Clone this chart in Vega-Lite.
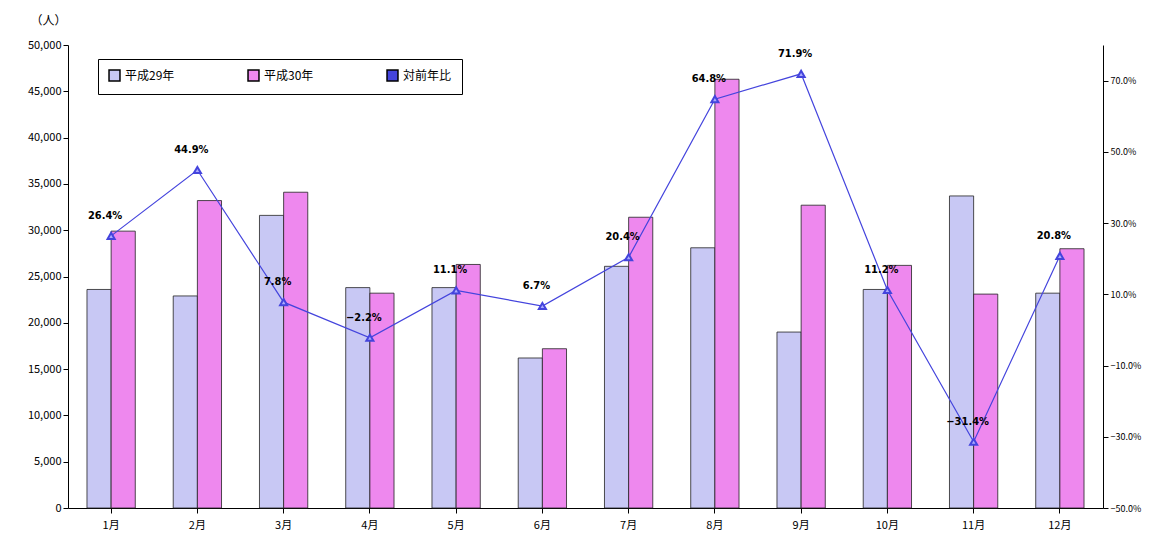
{
"$schema":"https://vega.github.io/schema/vega-lite/v6.json",
"width":1035,"height":463,
"autosize":{"type":"none"},
"padding":{"left":68,"top":45,"right":46,"bottom":27},
"background":"white",
"config":{"view":{"stroke":null},"font":"Noto Sans CJK JP","axis":{"labelFont":"Noto Sans CJK JP","labelFontSize":11,"labelColor":"black","domainColor":"black","tickColor":"black","grid":false}},
"datasets":{
"bars":[
{"m":"1月","s":"平成29年","v":23600},{"m":"1月","s":"平成30年","v":29900},
{"m":"2月","s":"平成29年","v":22900},{"m":"2月","s":"平成30年","v":33200},
{"m":"3月","s":"平成29年","v":31600},{"m":"3月","s":"平成30年","v":34100},
{"m":"4月","s":"平成29年","v":23800},{"m":"4月","s":"平成30年","v":23200},
{"m":"5月","s":"平成29年","v":23800},{"m":"5月","s":"平成30年","v":26300},
{"m":"6月","s":"平成29年","v":16200},{"m":"6月","s":"平成30年","v":17200},
{"m":"7月","s":"平成29年","v":26100},{"m":"7月","s":"平成30年","v":31400},
{"m":"8月","s":"平成29年","v":28100},{"m":"8月","s":"平成30年","v":46300},
{"m":"9月","s":"平成29年","v":19000},{"m":"9月","s":"平成30年","v":32700},
{"m":"10月","s":"平成29年","v":23600},{"m":"10月","s":"平成30年","v":26200},
{"m":"11月","s":"平成29年","v":33700},{"m":"11月","s":"平成30年","v":23100},
{"m":"12月","s":"平成29年","v":23200},{"m":"12月","s":"平成30年","v":28000}],
"ratio":[
{"m":"1月","r":0.264},{"m":"2月","r":0.449},{"m":"3月","r":0.078},{"m":"4月","r":-0.022},
{"m":"5月","r":0.111},{"m":"6月","r":0.067},{"m":"7月","r":0.204},{"m":"8月","r":0.648},
{"m":"9月","r":0.719},{"m":"10月","r":0.112},{"m":"11月","r":-0.314},{"m":"12月","r":0.208}]
},
"layer":[
{"data":{"name":"bars"},"mark":{"type":"bar","stroke":"#222","strokeWidth":0.8},
"encoding":{
"x":{"field":"m","type":"nominal","sort":null,"title":null,"scale":{"paddingInner":0.44,"paddingOuter":0.22},"axis":{"labelAngle":0,"ticks":true,"labelPadding":6}},
"xOffset":{"field":"s","type":"nominal"},
"y":{"field":"v","type":"quantitative","scale":{"domain":[0,50000]},"axis":{"labelExpr":"format(datum.value, ',')","values":[0,5000,10000,15000,20000,25000,30000,35000,40000,45000,50000],"title":"（人）","titleAngle":0,"titleAnchor":"end","titleAlign":"center","titleX":-20,"titleY":-18,"titleFontWeight":"normal","titleFontSize":12}},
"fill":{"field":"s","type":"nominal","scale":{"domain":["平成29年","平成30年","対前年比"],"range":["#c8c8f4","#ee88ee","#4444dd"]},
"legend":{"title":null,"orient":"none","legendX":30,"legendY":14,"direction":"horizontal","columnPadding":70,"labelFontSize":12,"labelFont":"Noto Sans CJK JP","strokeColor":"black","padding":10,"fillColor":"white","symbolType":"square","symbolStrokeColor":"black","symbolSize":120}}}},
{"data":{"name":"ratio"},
"encoding":{"x":{"field":"m","type":"nominal","sort":null},
"y":{"field":"r","type":"quantitative","scale":{"domain":[-0.5,0.8]},"axis":{"orient":"right","format":".1%","values":[-0.5,-0.3,-0.1,0.1,0.3,0.5,0.7],"title":null,"labelFontSize":9}}},
"layer":[
{"mark":{"type":"line","color":"#4444dd","strokeWidth":1.2}},
{"mark":{"type":"point","shape":"triangle-up","filled":true,"fill":"#aaaaff","stroke":"#4444dd","size":50,"opacity":1}},
{"mark":{"type":"text","dy":-20,"dx":-6,"fontWeight":"bold","fontSize":11,"font":"DejaVu Sans Condensed"},"encoding":{"text":{"field":"r","format":".1%"}}}
]}
],
"resolve":{"scale":{"y":"independent"}}
}
